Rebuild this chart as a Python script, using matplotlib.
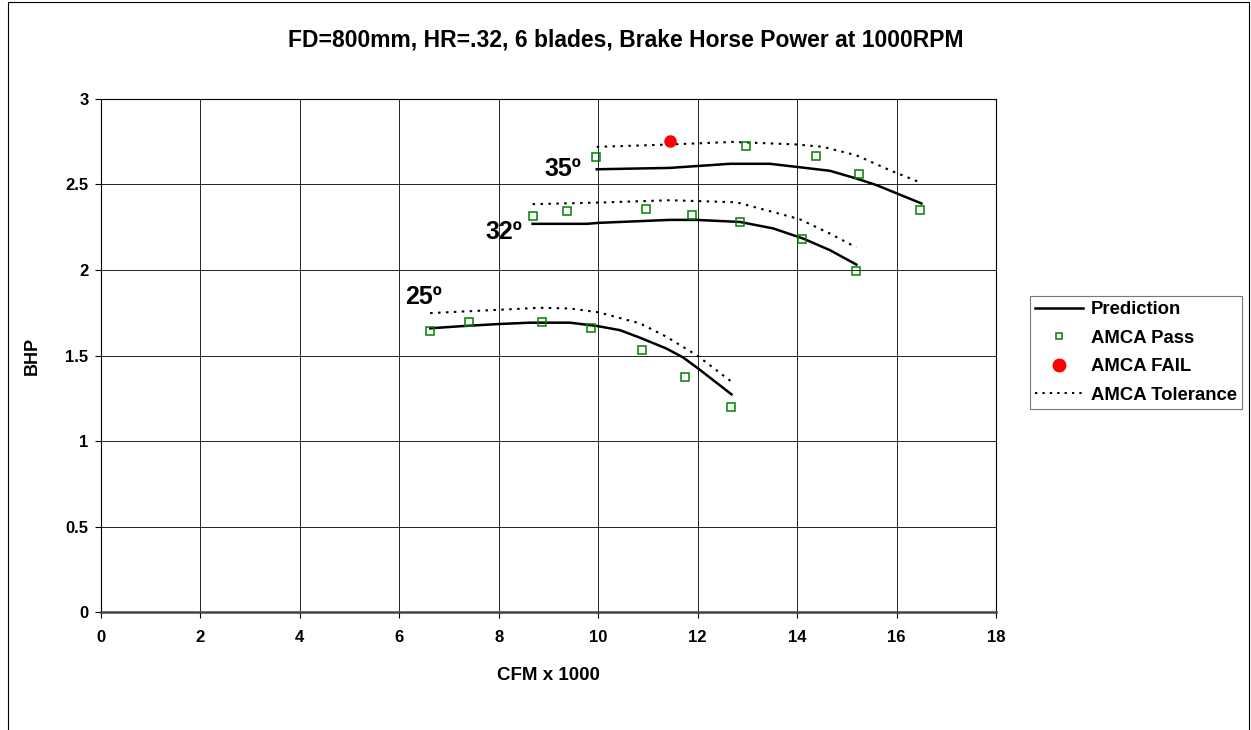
import matplotlib.pyplot as plt
from matplotlib.lines import Line2D

plt.rcParams['font.family'] = ['Liberation Sans', 'DejaVu Sans']
plt.rcParams['font.weight'] = 'bold'

# 25 deg
pred25_x = [6.62, 7.22, 7.99, 8.63, 9.43, 9.97, 10.44, 10.84, 11.37, 11.71, 12.01, 12.68]
pred25_y = [1.659, 1.671, 1.684, 1.692, 1.692, 1.673, 1.648, 1.604, 1.541, 1.488, 1.424, 1.273]
tol25_x = [6.62, 7.62, 8.83, 9.43, 10.0, 10.84, 11.37, 11.98, 12.68]
tol25_y = [1.748, 1.762, 1.779, 1.775, 1.753, 1.688, 1.61, 1.502, 1.347]
pass25_x = [6.62, 7.41, 8.87, 9.86, 10.88, 11.74, 12.66]
pass25_y = [1.645, 1.694, 1.694, 1.659, 1.534, 1.372, 1.199]

# 32 deg
pred32_x = [8.68, 9.77, 10.03, 11.44, 11.97, 12.85, 13.52, 14.12, 14.66, 15.19]
pred32_y = [2.270, 2.270, 2.276, 2.293, 2.293, 2.281, 2.243, 2.184, 2.116, 2.032]
tol32_x = [8.68, 10.10, 11.44, 12.78, 13.58, 14.05, 14.66, 15.19]
tol32_y = [2.385, 2.395, 2.408, 2.396, 2.334, 2.297, 2.213, 2.132]
pass32_x = [8.68, 9.38, 10.96, 11.89, 12.86, 14.10, 15.18]
pass32_y = [2.315, 2.344, 2.356, 2.320, 2.281, 2.184, 1.995]

# 35 deg
pred35_x = [9.97, 11.44, 12.65, 13.45, 13.99, 14.66, 15.19, 15.60, 16.50]
pred35_y = [2.589, 2.597, 2.621, 2.621, 2.603, 2.580, 2.535, 2.496, 2.389]
tol35_x = [9.97, 11.44, 12.71, 13.99, 14.52, 15.19, 15.86, 16.50]
tol35_y = [2.720, 2.734, 2.749, 2.734, 2.720, 2.671, 2.584, 2.509]
pass35_x = [9.95, 12.97, 14.37, 15.25, 16.48]
pass35_y = [2.658, 2.728, 2.666, 2.560, 2.350]

fail_x = [11.44]
fail_y = [2.755]

angle_labels = ['25º', '32º', '35º']
angle_label_x = [6.11, 7.74, 8.91]
angle_label_y = [1.843, 2.22, 2.59]

fig = plt.figure(figsize=(12.51, 7.30), dpi=100)
ax = fig.add_axes([0.0807, 0.1616, 0.7155, 0.7028])

green = '#008000'
for px, py in [(pred25_x, pred25_y), (pred32_x, pred32_y), (pred35_x, pred35_y)]:
    ax.plot(px, py, color='black', lw=1.8, zorder=3)
for tx, ty in [(tol25_x, tol25_y), (tol32_x, tol32_y), (tol35_x, tol35_y)]:
    ax.plot(tx, ty, color='black', lw=1.5, linestyle=(0, (1.2, 2.6)), zorder=3)
for sx, sy in [(pass25_x, pass25_y), (pass32_x, pass32_y), (pass35_x, pass35_y)]:
    ax.plot(sx, sy, linestyle='none', marker='s', ms=5.5, mfc='none', mec=green, mew=1.1, zorder=4)
ax.plot(fail_x, fail_y, linestyle='none', marker='o', ms=8, color='red', zorder=5)

for lab, lx, ly in zip(angle_labels, angle_label_x, angle_label_y):
    ax.text(lx, ly, lab, fontsize=18, fontweight='bold', ha='left', va='center')

ax.set_xlim(0, 18)
ax.set_ylim(0, 3)
ax.set_xticks(range(0, 19, 2))
ax.set_yticks([0, 0.5, 1, 1.5, 2, 2.5, 3])
ax.set_yticklabels(['0', '0.5', '1', '1.5', '2', '2.5', '3'])
ax.tick_params(labelsize=12, length=4, width=0.8, direction='out')
ax.tick_params(axis='x', pad=9)
ax.tick_params(axis='y', pad=5)
ax.grid(True, color='black', lw=0.6)
ax.set_axisbelow(True)
for s in ax.spines.values():
    s.set_linewidth(0.8)
ax.spines['bottom'].set_linewidth(1.8)
ax.spines['bottom'].set_color('#444444')

ax.set_xlabel('CFM x 1000', fontsize=13.5, fontweight='bold', labelpad=16)
ax.set_ylabel('BHP', fontsize=13, fontweight='bold', labelpad=18)

fig.text(0.5, 0.945, 'FD=800mm, HR=.32, 6 blades, Brake Horse Power at 1000RPM',
         ha='center', va='center', fontsize=16.5, fontweight='bold')

handles = [
    Line2D([], [], color='black', lw=1.8),
    Line2D([], [], linestyle='none', marker='s', ms=5, mfc='none', mec=green, mew=1.1),
    Line2D([], [], linestyle='none', marker='o', ms=9, color='red'),
    Line2D([], [], color='black', lw=1.4, linestyle=(0, (1.2, 2.6))),
]
labels = ['Prediction', 'AMCA Pass', 'AMCA FAIL', 'AMCA Tolerance']
leg = fig.legend(handles, labels, loc='center left', bbox_to_anchor=(0.823, 0.517),
                 fontsize=13.3, frameon=True, fancybox=False, edgecolor='#555555',
                 handlelength=2.6, borderpad=0.3, labelspacing=0.62, handletextpad=0.4,
                 borderaxespad=0)
leg.get_frame().set_linewidth(0.8)

# outer chart frame (left, top, right)
fig.add_artist(Line2D([0.0064, 0.0064, 0.9984, 0.9984], [0.0, 0.997, 0.997, 0.0],
                      transform=fig.transFigure, color='black', lw=0.8))

fig.savefig('out.png', dpi=100)
